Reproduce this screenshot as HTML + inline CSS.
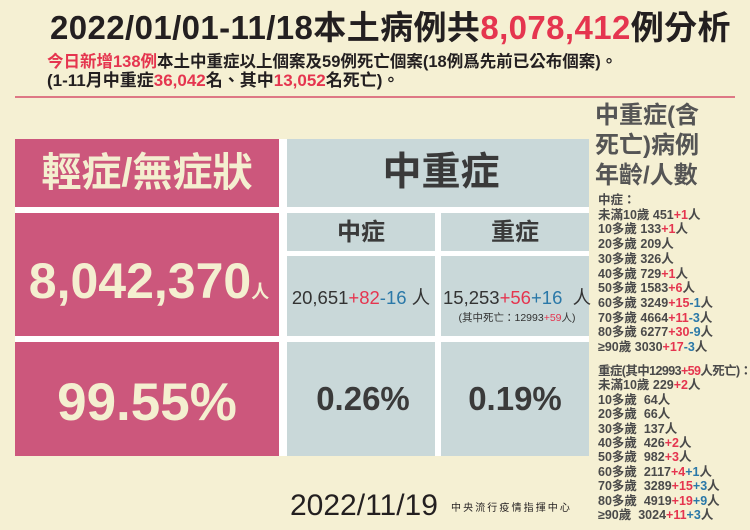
<!DOCTYPE html>
<html>
<head>
<meta charset="utf-8">
<style>
  html,body{margin:0;padding:0;}
  body{width:750px;height:530px;background:#f5f0d3;position:relative;overflow:hidden;
       font-family:"Liberation Sans","Noto Sans CJK TC",sans-serif;color:#231f20;}
  .a{position:absolute;white-space:nowrap;}
  .r{color:#e5354f;}
  .b{color:#2a78a8;}
  .pink{position:absolute;background:#cc577c;}
  .gray{position:absolute;background:#c9d8d9;}
  .ctr{position:absolute;text-align:center;white-space:nowrap;}
  .list{position:absolute;left:598px;font-size:12.5px;font-weight:bold;color:#4a4a4a;line-height:14.4px;white-space:nowrap;}
</style>
</head>
<body>
  <!-- Header -->
  <div class="a" style="left:50px;top:8px;font-size:33px;line-height:40px;font-weight:bold;letter-spacing:0.4px;">2022/01/01-11/18本土病例共<span class="r">8,078,412</span>例分析</div>
  <div class="a" style="left:47px;top:52px;font-size:16.5px;line-height:20px;font-weight:bold;"><span class="r">今日新增138例</span>本土中重症以上個案及59例死亡個案(18例爲先前已公布個案)。</div>
  <div class="a" style="left:47px;top:71px;font-size:17px;line-height:20px;font-weight:bold;">(1-11月中重症<span class="r">36,042</span>名、其中<span class="r">13,052</span>名死亡)。</div>
  <div class="a" style="left:15px;top:96px;width:720px;height:2px;background:#de7885;"></div>

  <!-- Table white backing -->
  <div class="a" style="left:15px;top:139px;width:574px;height:317px;background:#ffffff;"></div>

  <!-- Pink column -->
  <div class="pink" style="left:15px;top:139px;width:264px;height:68px;"></div>
  <div class="pink" style="left:15px;top:213px;width:264px;height:123px;"></div>
  <div class="pink" style="left:15px;top:342px;width:264px;height:114px;"></div>

  <div class="ctr" style="left:15px;width:264px;top:148px;line-height:50px;font-size:40px;font-weight:bold;color:#f4efd0;">輕症/無症狀</div>
  <div class="ctr" style="left:15px;width:268px;top:256px;line-height:50px;font-size:50px;font-weight:bold;color:#f4efd0;">8,042,370<span style="font-size:18px;">人</span></div>
  <div class="ctr" style="left:15px;width:264px;top:373px;line-height:60px;font-size:53px;font-weight:bold;color:#f4efd0;">99.55%</div>

  <!-- Gray cells -->
  <div class="gray" style="left:287px;top:139px;width:302px;height:68px;"></div>
  <div class="gray" style="left:287px;top:213px;width:148px;height:38px;"></div>
  <div class="gray" style="left:441px;top:213px;width:148px;height:38px;"></div>
  <div class="gray" style="left:287px;top:256px;width:148px;height:80px;"></div>
  <div class="gray" style="left:441px;top:256px;width:148px;height:80px;"></div>
  <div class="gray" style="left:287px;top:342px;width:148px;height:114px;"></div>
  <div class="gray" style="left:441px;top:342px;width:148px;height:114px;"></div>

  <div class="ctr" style="left:290px;width:302px;top:148px;line-height:50px;font-size:39px;font-weight:bold;color:#3a3a3a;">中重症</div>
  <div class="ctr" style="left:287px;width:148px;top:218px;line-height:30px;font-size:24px;font-weight:bold;color:#3a3a3a;">中症</div>
  <div class="ctr" style="left:441px;width:148px;top:218px;line-height:30px;font-size:24px;font-weight:bold;color:#3a3a3a;">重症</div>

  <div class="ctr" style="left:287px;width:148px;top:286px;line-height:24px;font-size:18.5px;color:#333;">20,651<span class="r">+82</span><span class="b">-16</span> 人</div>
  <div class="ctr" style="left:443px;width:148px;top:286px;line-height:24px;font-size:18.5px;color:#333;">15,253<span class="r">+56</span><span class="b">+16</span>&nbsp; 人</div>
  <div class="ctr" style="left:443px;width:148px;top:311px;line-height:14px;font-size:10.5px;color:#333;">(其中死亡：12993<span class="r">+59</span>人)</div>

  <div class="ctr" style="left:289px;width:148px;top:379px;line-height:40px;font-size:33px;font-weight:bold;color:#3a3a3a;">0.26%</div>
  <div class="ctr" style="left:441px;width:148px;top:379px;line-height:40px;font-size:33px;font-weight:bold;color:#3a3a3a;">0.19%</div>

  <!-- Footer -->
  <div class="a" style="left:290px;top:488px;line-height:36px;font-size:30px;color:#231f20;">2022/11/19</div>
  <div class="a" style="left:451px;top:502px;line-height:14px;font-size:10px;letter-spacing:2.1px;color:#231f20;">中央流行疫情指揮中心</div>

  <!-- Right column -->
  <div class="a" style="left:595px;top:101px;font-size:24px;line-height:30px;font-weight:bold;color:#555;">中重症(含<br>死亡)病例<br>年齡/人數</div>

  <div class="list" style="top:193px;line-height:14.7px;">
    中症：<br>
    未滿10歲 451<span class="r">+1</span>人<br>
    10多歲 133<span class="r">+1</span>人<br>
    20多歲 209人<br>
    30多歲 326人<br>
    40多歲 729<span class="r">+1</span>人<br>
    50多歲 1583<span class="r">+6</span>人<br>
    60多歲 3249<span class="r">+15</span><span class="b">-1</span>人<br>
    70多歲 4664<span class="r">+11</span><span class="b">-3</span>人<br>
    80多歲 6277<span class="r">+30</span><span class="b">-9</span>人<br>
    ≥90歲 3030<span class="r">+17</span><span class="b">-3</span>人
  </div>

  <div class="list" style="top:364px;">
    <span style="letter-spacing:-0.6px;">重症(其中12993<span class="r">+59</span>人死亡)：</span><br>
    未滿10歲 229<span class="r">+2</span>人<br>
    10多歲 &nbsp;64人<br>
    20多歲 &nbsp;66人<br>
    30多歲 &nbsp;137人<br>
    40多歲 &nbsp;426<span class="r">+2</span>人<br>
    50多歲 &nbsp;982<span class="r">+3</span>人<br>
    60多歲 &nbsp;2117<span class="r">+4</span><span class="b">+1</span>人<br>
    70多歲 &nbsp;3289<span class="r">+15</span><span class="b">+3</span>人<br>
    80多歲 &nbsp;4919<span class="r">+19</span><span class="b">+9</span>人<br>
    ≥90歲 &nbsp;3024<span class="r">+11</span><span class="b">+3</span>人
  </div>
</body>
</html>
